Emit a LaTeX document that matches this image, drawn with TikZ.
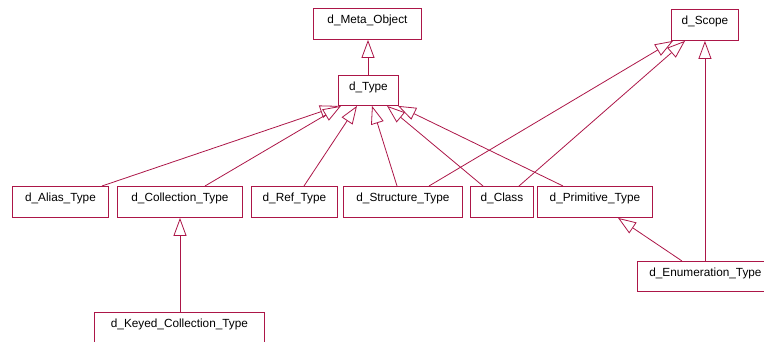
\documentclass[tikz,border=0pt]{standalone}
\usepackage{fontspec}
\setmainfont{Liberation Sans}
\usetikzlibrary{arrows.meta}
\definecolor{umlred}{RGB}{172,22,72}
\tikzset{
  cls/.style={draw=umlred, line width=0.9pt, rectangle, inner xsep=0pt, inner ysep=0pt,
    text height=15.5pt, text depth=15.5pt, anchor=north west, font=\fontsize{11.8}{14}\selectfont},
  inherit/.style={draw=umlred, line width=0.8pt,
    -{Triangle[open, length=18pt, width=13pt, fill=white]}},
}
\begin{document}
\begin{tikzpicture}[x=1pt, y=-1pt]
\useasboundingbox (0,0) rectangle (764,342);
\clip (0,0) rectangle (764,342);
% classes
\node[cls, minimum width=108pt] (meta) at (313,8) {d\_Meta\_Object};
\node[cls, minimum width=60pt, text depth=14.5pt] (type) at (338,75) {d\_Type};
\node[cls, minimum width=67pt] (scope) at (671,9) {d\_Scope};
\node[cls, minimum width=96pt] (alias) at (12,186) {d\_Alias\_Type};
\node[cls, minimum width=125pt] (coll) at (117,186) {d\_Collection\_Type};
\node[cls, minimum width=86pt] (ref) at (251,186) {d\_Ref\_Type};
\node[cls, minimum width=119pt] (struct) at (343,186) {d\_Structure\_Type};
\node[cls, minimum width=63pt] (class) at (470,186) {d\_Class};
\node[cls, minimum width=115pt] (prim) at (537,186) {d\_Primitive\_Type};
\node[cls, minimum width=136pt, text depth=14.5pt] (enum) at (637,261) {d\_Enumeration\_Type};
\node[cls, minimum width=170pt] (keyed) at (94,312) {d\_Keyed\_Collection\_Type};
% generalisations
\draw[inherit] ([xshift=30pt]type.north west) -- ([xshift=55pt]meta.south west);
\draw[inherit] ([xshift=90pt]alias.north west) -- ([xshift=0pt]type.south west);
\draw[inherit] ([xshift=88pt]coll.north west) -- ([xshift=3pt]type.south west);
\draw[inherit] ([xshift=53pt]ref.north west) -- ([xshift=19pt]type.south west);
\draw[inherit] ([xshift=54pt]struct.north west) -- ([xshift=34pt]type.south west);
\draw[inherit] ([xshift=13pt]class.north west) -- ([xshift=49pt]type.south west);
\draw[inherit] ([xshift=26pt]prim.north west) -- ([xshift=60pt]type.south west);
\draw[inherit] ([xshift=86pt]struct.north west) -- ([xshift=2pt]scope.south west);
\draw[inherit] ([xshift=49pt]class.north west) -- ([xshift=14pt]scope.south west);
\draw[inherit] ([xshift=45pt]enum.north west) -- ([xshift=81pt]prim.south west);
\draw[inherit] (scope.south |- enum.north) -- (scope.south);
\draw[inherit] ([xshift=86pt]keyed.north west) -- ([xshift=63pt]coll.south west);
\end{tikzpicture}
\end{document}
